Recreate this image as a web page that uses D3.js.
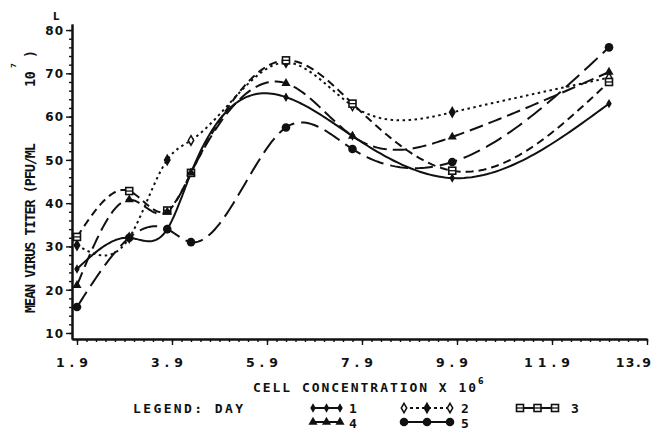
<!DOCTYPE html>
<html>
<head>
<meta charset="utf-8">
<script src="https://cdn.jsdelivr.net/npm/d3@7"></script>
<style>
  html, body { margin: 0; padding: 0; background: #fff; }
  svg { display: block; }
  text { fill: #111; font-family: "DejaVu Sans", sans-serif; font-weight: bold; }
</style>
</head>
<body>
<svg id="chart" width="654" height="434"></svg>
<script>
// Cell concentration (x 10^6) at which titers were sampled
const concentration = [1.9, 3.0, 3.8, 4.3, 6.3, 7.7, 9.8, 13.1];

// Mean virus titer (PFU/ML x 10^7) by day of harvest
const day1 = [24.8, 32.0, 34.0, 47.0, 64.5, 55.5, 45.8, 63.0];
const day2 = [30.3, 32.0, 50.0, 54.5, 72.5, 62.5, 61.0, 69.0];
const day3 = [32.2, 42.8, 38.3, 47.0, 73.0, 63.0, 47.5, 68.0];
const day4 = [21.0, 40.8, 38.0, 47.0, 67.7, 55.5, 55.3, 70.3];
const day5 = [16.0, 32.0, 34.0, 31.0, 57.5, 52.5, 49.5, 76.0];

// Axis tick labels
const xTickLabels = ["1.9", "3.9", "5.9", "7.9", "9.9", "11.9", "13.9"];
const yTickLabels = ["10", "20", "30", "40", "50", "60", "70", "80"];

const svg = d3.select("#chart");

const x = d3.scaleLinear().domain([1.795, 13.9]).range([72, 647]);
const y = d3.scaleLinear().domain([8.61, 81.4]).range([339, 24]);

const ink = "#111";
const mono = "'DejaVu Sans Mono', monospace";

// ---- axes ----
const xMajor = xTickLabels.map(Number);
const xMinor = d3.range(0, 61).map(i => +(1.9 + i * 0.2).toFixed(1));
const yMajor = yTickLabels.map(Number);
const yMinor = d3.range(10, 81, 2);

svg.append("g").attr("transform", `translate(0,${y.range()[0]})`)
  .call(d3.axisBottom(x).tickValues(xMinor).tickSize(3).tickSizeOuter(0).tickFormat(""));
const xAxis = svg.append("g").attr("transform", `translate(0,${y.range()[0]})`)
  .call(d3.axisBottom(x).tickValues(xMajor).tickSize(6).tickSizeOuter(0)
    .tickFormat((d, i) => xTickLabels[i]));

svg.append("g").attr("transform", `translate(${x.range()[0]},0)`)
  .call(d3.axisLeft(y).tickValues(yMinor).tickSize(3).tickSizeOuter(0).tickFormat(""));
const yAxis = svg.append("g").attr("transform", `translate(${x.range()[0]},0)`)
  .call(d3.axisLeft(y).tickValues(yMajor).tickSize(6).tickSizeOuter(0)
    .tickFormat((d, i) => yTickLabels[i]));

svg.selectAll(".domain").attr("stroke", ink).attr("stroke-width", 2);
svg.selectAll(".tick line").attr("stroke", ink).attr("stroke-width", 1.4);

xAxis.selectAll(".tick text")
  .attr("y", 19).attr("dy", "0.71em").attr("dx", -3)
  .style("font-size", "12.5px").style("letter-spacing", "5px")
  .attr("fill", ink);
// the last label sits against the right edge
xAxis.selectAll(".tick:last-of-type text")
  .attr("text-anchor", "end").attr("dx", 5).style("letter-spacing", "1.5px");

yAxis.selectAll(".tick text")
  .attr("x", -8).attr("dy", "0.36em")
  .style("font-size", "12px").style("letter-spacing", "1px")
  .attr("fill", ink);

// small mark at top of the ordinate
svg.append("text").attr("x", 53).attr("y", 20)
  .style("font-size", "10px").text("L");

// ---- axis titles ----
svg.append("text")
  .attr("x", 253).attr("y", 392)
  .attr("textLength", 223).attr("lengthAdjust", "spacing")
  .style("font-size", "13px").style("font-family", mono)
  .text("CELL CONCENTRATION X 10");
svg.append("text")
  .attr("x", 478).attr("y", 384)
  .style("font-size", "8px").text("6");

const yTitle = svg.append("g").attr("transform", "translate(35,0) rotate(-90)");
yTitle.append("text")
  .attr("x", -313).attr("y", 0)
  .attr("textLength", 170).attr("lengthAdjust", "spacing")
  .style("font-size", "13.5px").style("font-family", mono)
  .text("MEAN VIRUS TITER (PFU/ML");
yTitle.append("text")
  .attr("x", -87).attr("y", 0)
  .attr("textLength", 16).attr("lengthAdjust", "spacing")
  .style("font-size", "13.5px").style("font-family", mono)
  .text("10");
yTitle.append("text")
  .attr("x", -68).attr("y", -19)
  .style("font-size", "7px").text("7");
yTitle.append("text")
  .attr("x", -58).attr("y", 0)
  .style("font-size", "13.5px").style("font-family", mono)
  .text(")");

// ---- series ----
const series = [
  { day: "1", values: day1, dash: null,       marker: "diamond" },
  { day: "2", values: day2, dash: "2.5,3.5",  marker: "opendiamond" },
  { day: "3", values: day3, dash: "8,5",      marker: "square" },
  { day: "4", values: day4, dash: "14,6",     marker: "triangle" },
  { day: "5", values: day5, dash: "18,7",     marker: "circle" }
];

// Natural cubic spline through (xs, ys), returned as a function of x
function naturalSpline(xs, ys) {
  const n = xs.length;
  const h = [], al = [], l = [1], mu = [0], z = [0];
  for (let i = 0; i < n - 1; i++) h[i] = xs[i + 1] - xs[i];
  for (let i = 1; i < n - 1; i++)
    al[i] = 3 / h[i] * (ys[i + 1] - ys[i]) - 3 / h[i - 1] * (ys[i] - ys[i - 1]);
  for (let i = 1; i < n - 1; i++) {
    l[i] = 2 * (xs[i + 1] - xs[i - 1]) - h[i - 1] * mu[i - 1];
    mu[i] = h[i] / l[i];
    z[i] = (al[i] - h[i - 1] * z[i - 1]) / l[i];
  }
  const b = [], c = [], d = [];
  c[n - 1] = 0;
  for (let j = n - 2; j >= 0; j--) {
    c[j] = z[j] - mu[j] * c[j + 1];
    b[j] = (ys[j + 1] - ys[j]) / h[j] - h[j] * (c[j + 1] + 2 * c[j]) / 3;
    d[j] = (c[j + 1] - c[j]) / (3 * h[j]);
  }
  return function (t) {
    let j = 0;
    while (j < n - 2 && t > xs[j + 1]) j++;
    const dx = t - xs[j];
    return ys[j] + b[j] * dx + c[j] * dx * dx + d[j] * dx * dx * dx;
  };
}

function splinePoints(values) {
  const f = naturalSpline(concentration, values);
  const pts = [];
  for (let i = 0; i < concentration.length - 1; i++) {
    const a = concentration[i], bnd = concentration[i + 1];
    const steps = 40;
    for (let k = 0; k < steps; k++) {
      const t = a + (bnd - a) * k / steps;
      pts.push([t, f(t)]);
    }
  }
  pts.push([concentration[concentration.length - 1], values[values.length - 1]]);
  return pts;
}

const line = d3.line().x(p => x(p[0])).y(p => y(p[1]));

const plot = svg.append("g");

plot.selectAll("path.series")
  .data(series)
  .join("path")
  .attr("class", "series")
  .attr("d", s => line(splinePoints(s.values)))
  .attr("fill", "none")
  .attr("stroke", ink)
  .attr("stroke-width", 2)
  .attr("stroke-dasharray", s => s.dash)
  .attr("stroke-linecap", "butt");

function drawMarker(g, type, cx, cy, i) {
  if (type === "diamond") {
    g.append("path").attr("d", d3.symbol(d3.symbolDiamond, 26)())
      .attr("transform", `translate(${cx},${cy})`).attr("fill", ink);
  } else if (type === "opendiamond") {
    g.append("path").attr("d", d3.symbol(d3.symbolDiamond, 26)())
      .attr("transform", `translate(${cx},${cy})`)
      .attr("fill", i % 2 === 0 ? ink : "#fff").attr("stroke", ink).attr("stroke-width", 1.5);
  } else if (type === "square") {
    g.append("rect").attr("x", cx - 3.5).attr("y", cy - 3.5).attr("width", 7).attr("height", 7)
      .attr("fill", "#fff").attr("stroke", ink).attr("stroke-width", 1.6);
    g.append("line").attr("x1", cx - 3.5).attr("x2", cx + 3.5).attr("y1", cy).attr("y2", cy)
      .attr("stroke", ink).attr("stroke-width", 1.3);
  } else if (type === "triangle") {
    g.append("path").attr("d", d3.symbol(d3.symbolTriangle, 36)())
      .attr("transform", `translate(${cx},${cy})`).attr("fill", ink);
  } else if (type === "circle") {
    g.append("circle").attr("cx", cx).attr("cy", cy).attr("r", 4.3).attr("fill", ink);
  }
}

series.forEach(s => {
  const g = plot.append("g");
  s.values.forEach((v, i) => drawMarker(g, s.marker, x(concentration[i]), y(v), i));
});

// ---- legend ----
const legend = svg.append("g");
legend.append("text")
  .attr("x", 133).attr("y", 413)
  .attr("textLength", 110).attr("lengthAdjust", "spacing")
  .style("font-size", "13px").style("font-family", mono)
  .text("LEGEND: DAY");

const legendItems = [
  { s: series[0], x0: 313, x1: 340, cy: 408, lx: 349, ly: 413 },
  { s: series[3], x0: 313, x1: 340, cy: 422, lx: 349, ly: 428 },
  { s: series[1], x0: 404, x1: 450, cy: 408, lx: 461, ly: 413 },
  { s: series[4], x0: 404, x1: 450, cy: 422, lx: 461, ly: 428 },
  { s: series[2], x0: 520, x1: 555, cy: 408, lx: 571, ly: 413 }
];

legendItems.forEach(it => {
  const g = legend.append("g");
  g.append("line").attr("x1", it.x0).attr("x2", it.x1).attr("y1", it.cy).attr("y2", it.cy)
    .attr("stroke", ink).attr("stroke-width", 2)
    .attr("stroke-dasharray", it.s.marker === "opendiamond" ? "3,3" : null);
  [it.x0, (it.x0 + it.x1) / 2, it.x1].forEach((px, i) => drawMarker(g, it.s.marker, px, it.cy, i + 1));
  g.append("text").attr("x", it.lx).attr("y", it.ly)
    .style("font-size", "13px").style("font-family", mono)
    .text(it.s.day);
});
</script>
</body>
</html>
